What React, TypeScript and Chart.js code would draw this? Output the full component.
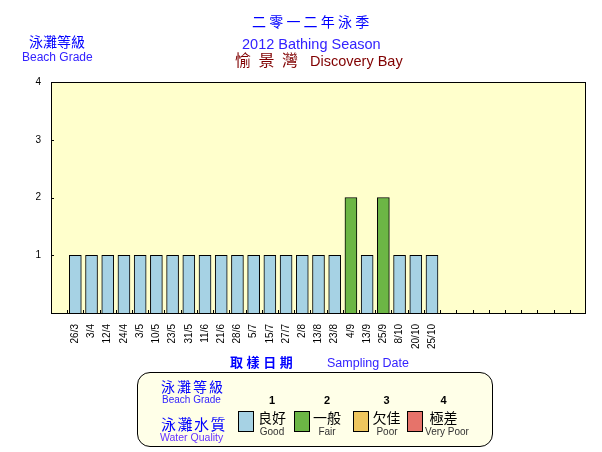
import React, { useEffect, useRef } from 'react';
import { Chart, registerables } from 'chart.js';

Chart.register(...registerables);

// ---- data ----
const sampleDates = [
  '26/3', '3/4', '12/4', '24/4', '3/5', '10/5', '23/5', '31/5', '11/6', '21/6', '28/6', '5/7',
  '15/7', '27/7', '2/8', '13/8', '23/8', '4/9', '13/9', '25/9', '8/10', '20/10', '25/10',
];
const beachGrades = [1, 1, 1, 1, 1, 1, 1, 1, 1, 1, 1, 1, 1, 1, 1, 1, 1, 2, 1, 2, 1, 1, 1];
const leadingSlots = [''];
const trailingSlots = ['', '', '', '', '', '', '', '', ''];
const yTickValues = [1, 2, 3, 4];

const gradeColors = ['#a6d2e4', '#6cb645', '#eec65e', '#e6736a'];
const gradeNumbers = ['1', '2', '3', '4'];
const gradeZh = ['良好', '一般', '欠佳', '極差'];
const gradeEn = ['Good', 'Fair', 'Poor', 'Very Poor'];

const FONT = "'Liberation Sans', Arial, 'Noto Sans CJK TC', sans-serif";

const framePlugin = {
  id: 'frameAndTicks',
  beforeDraw(chart: any) {
    const { ctx, chartArea: a } = chart;
    ctx.save();
    ctx.fillStyle = '#ffffcc';
    ctx.fillRect(a.left, a.top, a.right - a.left, a.bottom - a.top);
    ctx.restore();
  },
  afterDatasetsDraw(chart: any) {
    const { ctx, chartArea: a, scales } = chart;
    ctx.save();
    ctx.strokeStyle = '#000';
    ctx.lineWidth = 1;
    // x tick marks (inward) at category boundaries
    const n = scales.x.ticks.length;
    const w = (a.right - a.left) / n;
    ctx.beginPath();
    for (let i = 1; i < n; i++) {
      const x = Math.round(a.left + i * w) + 0.5;
      ctx.moveTo(x, a.bottom);
      ctx.lineTo(x, a.bottom - 3);
    }
    // y tick marks (inward)
    for (const v of yTickValues) {
      const y = Math.round(scales.y.getPixelForValue(v)) + 0.5;
      ctx.moveTo(a.left, y);
      ctx.lineTo(a.left + 3, y);
    }
    ctx.stroke();
    // frame
    ctx.strokeRect(a.left + 0.5, a.top + 0.5, a.right - a.left - 1, a.bottom - a.top);
    ctx.restore();
  },
};

type LabelProps = {
  text: string;
  x: number;
  cy: number;
  size: number;
  color: string;
  bold?: boolean;
  ls?: number;
  center?: boolean;
};

function Label({ text, x, cy, size, color, bold, ls, center }: LabelProps) {
  const lh = Math.round(size * 1.4);
  return (
    <div
      style={{
        position: 'absolute',
        left: x,
        top: cy - lh / 2,
        lineHeight: lh + 'px',
        height: lh,
        fontSize: size,
        fontFamily: FONT,
        fontWeight: bold ? 'bold' : 'normal',
        color,
        whiteSpace: 'nowrap',
        letterSpacing: ls ? ls + 'px' : undefined,
        transform: center ? 'translateX(-50%)' : undefined,
        textAlign: center ? 'center' : 'left',
      }}
    >
      {text}
    </div>
  );
}

export default function App() {
  const canvasRef = useRef<HTMLCanvasElement | null>(null);

  useEffect(() => {
    const canvas = canvasRef.current;
    if (!canvas) return;
    const labels = [...leadingSlots, ...sampleDates, ...trailingSlots];
    const values = [
      ...leadingSlots.map(() => null),
      ...beachGrades,
      ...trailingSlots.map(() => null),
    ];
    const colors = values.map((v) => (v == null ? 'rgba(0,0,0,0)' : gradeColors[v - 1]));
    const chart = new Chart(canvas, {
      type: 'bar',
      data: {
        labels,
        datasets: [
          {
            data: values as any,
            backgroundColor: colors,
            borderColor: '#000',
            borderWidth: 1,
            barThickness: 12,
          },
        ],
      },
      options: {
        responsive: false,
        animation: false,
        layout: { padding: { top: 82, right: 16, left: 0, bottom: 0 } },
        plugins: {
          legend: { display: false },
          tooltip: { enabled: false },
          title: { display: false },
        },
        scales: {
          x: {
            type: 'category',
            offset: true,
            grid: { display: false, drawTicks: false },
            border: { display: false },
            ticks: {
              autoSkip: false,
              minRotation: 90,
              maxRotation: 90,
              padding: 11,
              color: '#000',
              font: { family: FONT, size: 10 },
            },
            afterFit: (s: any) => {
              s.height = 452 - 313;
            },
          },
          y: {
            min: 0,
            max: 4,
            grid: { display: false, drawTicks: false },
            border: { display: false },
            ticks: {
              stepSize: 1,
              padding: 10,
              color: '#000',
              font: { family: FONT, size: 10 },
              callback: (v: any) => (yTickValues.includes(Number(v)) ? String(v) : ''),
            },
            afterFit: (s: any) => {
              s.width = 51;
            },
          },
        },
      },
      plugins: [framePlugin],
    });
    return () => chart.destroy();
  }, []);

  const colCenters = [272, 327, 386.5, 443.5];
  const swatchLeft = [238, 294, 353, 407];
  const enCenters = [272, 327, 387, 447];

  return (
    <div
      style={{
        position: 'fixed',
        left: 0,
        top: 0,
        width: 602,
        height: 452,
        background: '#fff',
        overflow: 'hidden',
      }}
    >
      <canvas
        ref={canvasRef}
        width={602}
        height={452}
        style={{ position: 'absolute', left: 0, top: 0, width: 602, height: 452, display: 'block' }}
      />
      {/* titles */}
      <Label text="二零一二年泳季" x={252} cy={21.5} size={14} color="#0000ff" ls={3.2} />
      <Label text="2012 Bathing Season" x={242} cy={44} size={14.5} color="#3322ff" />
      <Label text="愉 景 灣" x={235} cy={61} size={16} color="#800000" ls={1.5} />
      <Label text="Discovery Bay" x={310} cy={61} size={14.5} color="#800000" />
      <Label text="泳灘等級" x={29} cy={42} size={14} color="#0000ff" />
      <Label text="Beach Grade" x={22} cy={57.5} size={12} color="#3322ff" />
      {/* x axis title */}
      <Label text="取 樣 日 期" x={230} cy={363} size={13} color="#0000ff" bold />
      <Label text="Sampling Date" x={327} cy={363} size={12.5} color="#3322ff" />
      {/* legend box */}
      <div
        style={{
          position: 'absolute',
          left: 137,
          top: 372,
          width: 356,
          height: 75,
          boxSizing: 'border-box',
          border: '1px solid #000',
          borderRadius: 13,
          background: '#ffffe8',
        }}
      />
      <Label text="泳灘等級" x={161} cy={387} size={14} color="#0000ff" ls={2} />
      <Label text="Beach Grade" x={162} cy={399.5} size={10} color="#3322ff" />
      <Label text="泳灘水質" x={161} cy={424} size={15} color="#0000ff" ls={1.5} />
      <Label text="Water Quality" x={160} cy={437} size={10.5} color="#6633ff" />
      {gradeNumbers.map((t, i) => (
        <Label key={'n' + i} text={t} x={colCenters[i]} cy={400} size={11} color="#000" bold center />
      ))}
      {gradeColors.map((c, i) => (
        <div
          key={'s' + i}
          style={{
            position: 'absolute',
            left: swatchLeft[i],
            top: 411,
            width: 16,
            height: 21,
            boxSizing: 'border-box',
            border: '1px solid #000',
            background: c,
          }}
        />
      ))}
      {gradeZh.map((t, i) => (
        <Label key={'z' + i} text={t} x={colCenters[i]} cy={418} size={14} color="#000" center />
      ))}
      {gradeEn.map((t, i) => (
        <Label key={'e' + i} text={t} x={enCenters[i]} cy={432} size={10} color="#333" center />
      ))}
    </div>
  );
}
